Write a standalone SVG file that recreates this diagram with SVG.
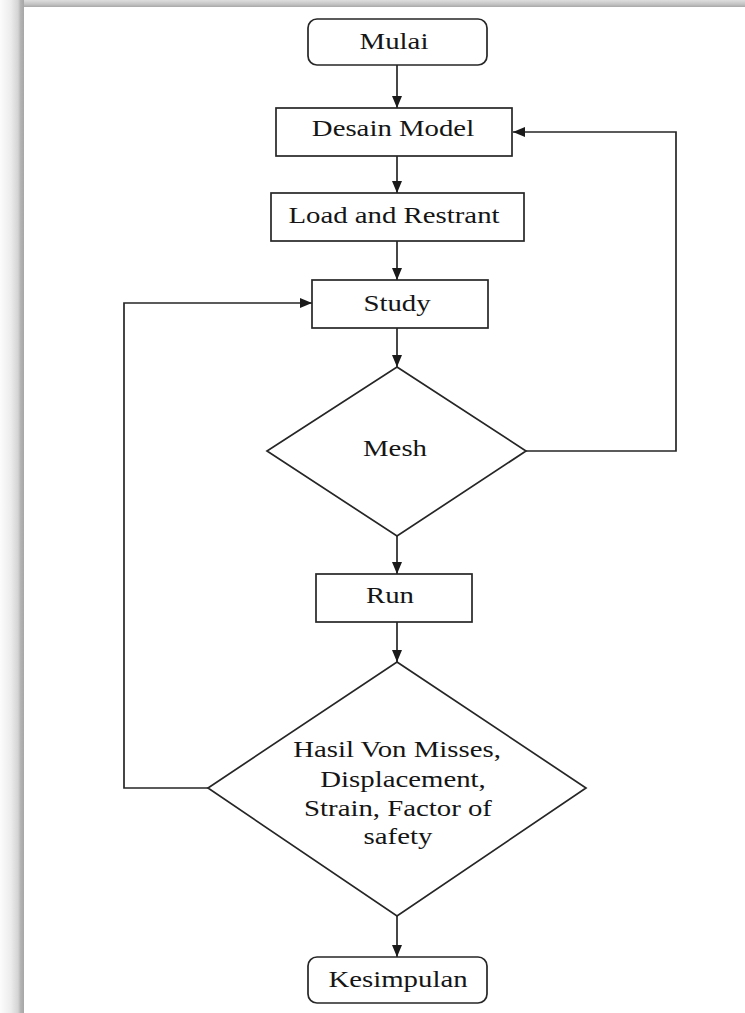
<svg xmlns="http://www.w3.org/2000/svg" width="745" height="1013" viewBox="0 0 745 1013">
<defs>
<linearGradient id="gl" x1="0" y1="0" x2="1" y2="0">
<stop offset="0" stop-color="#fcfcfc"/>
<stop offset="0.45" stop-color="#ececec"/>
<stop offset="0.75" stop-color="#d4d4d4"/>
<stop offset="0.86" stop-color="#b4b4b4"/>
<stop offset="1" stop-color="#a6a6a6"/>
</linearGradient>
<linearGradient id="gt" x1="0" y1="0" x2="0" y2="1">
<stop offset="0" stop-color="#dedede"/>
<stop offset="0.6" stop-color="#c4c4c4"/>
<stop offset="1" stop-color="#a8a8a8"/>
</linearGradient>
<marker id="ah" viewBox="0 0 12 10" refX="12" refY="5" markerWidth="12" markerHeight="10" markerUnits="userSpaceOnUse" orient="auto">
<path d="M0,0 L12,5 L0,10 Z" fill="#1a1a1a"/>
</marker>
</defs>
<style>
.shape{fill:#ffffff;stroke:#262626;stroke-width:1.7}
.lbl{font-family:"Liberation Serif","Times New Roman",serif;font-size:24px;fill:#151515;text-anchor:middle}
.conn{fill:none;stroke:#262626;stroke-width:1.7;marker-end:url(#ah)}
</style>
<rect x="0" y="0" width="745" height="1013" fill="#ffffff"/>
<rect x="16" y="0" width="729" height="7" fill="url(#gt)"/>
<rect x="0" y="0" width="24" height="1013" fill="url(#gl)"/>

<g id="connectors">
<line class="conn" x1="397" y1="65" x2="397" y2="108"/>
<line class="conn" x1="397" y1="156" x2="397" y2="193"/>
<line class="conn" x1="397" y1="241" x2="397" y2="280"/>
<line class="conn" x1="397" y1="328" x2="397" y2="367"/>
<line class="conn" x1="397" y1="536" x2="397" y2="574"/>
<line class="conn" x1="397" y1="622" x2="397" y2="662"/>
<line class="conn" x1="397" y1="916" x2="397" y2="957"/>
<polyline class="conn" points="526,451 676,451 676,132 513,132"/>
<polyline class="conn" points="208,788 124,788 124,303 312,303"/>
</g>

<g id="mulai">
<rect class="shape" x="308" y="19" width="179" height="46" rx="9" ry="9"/>
<text class="lbl" transform="translate(394,49) scale(1.2,1)">Mulai</text>
</g>
<g id="desain-model">
<rect class="shape" x="276" y="108" width="236" height="48"/>
<text class="lbl" transform="translate(393,136) scale(1.2,1)">Desain Model</text>
</g>
<g id="load-restrant">
<rect class="shape" x="271" y="193" width="253" height="48"/>
<text class="lbl" transform="translate(394,223) scale(1.2,1)">Load and Restrant</text>
</g>
<g id="study">
<rect class="shape" x="312" y="280" width="176" height="48"/>
<text class="lbl" transform="translate(397,311) scale(1.2,1)">Study</text>
</g>
<g id="mesh">
<polygon class="shape" points="397,367 526,451 397,536 267,451"/>
<text class="lbl" transform="translate(395,456) scale(1.2,1)">Mesh</text>
</g>
<g id="run">
<rect class="shape" x="316" y="574" width="156" height="48"/>
<text class="lbl" transform="translate(390,603) scale(1.2,1)">Run</text>
</g>
<g id="hasil">
<polygon class="shape" points="397,662 586,788 397,916 208,788"/>
<text class="lbl" transform="translate(397,757) scale(1.2,1)">Hasil Von Misses,</text>
<text class="lbl" transform="translate(403,787) scale(1.2,1)">Displacement,</text>
<text class="lbl" transform="translate(398,816) scale(1.2,1)">Strain, Factor of</text>
<text class="lbl" transform="translate(398,844) scale(1.2,1)">safety</text>
</g>
<g id="kesimpulan">
<rect class="shape" x="308" y="957" width="179" height="46" rx="9" ry="9"/>
<text class="lbl" transform="translate(398,987) scale(1.2,1)">Kesimpulan</text>
</g>
</svg>
